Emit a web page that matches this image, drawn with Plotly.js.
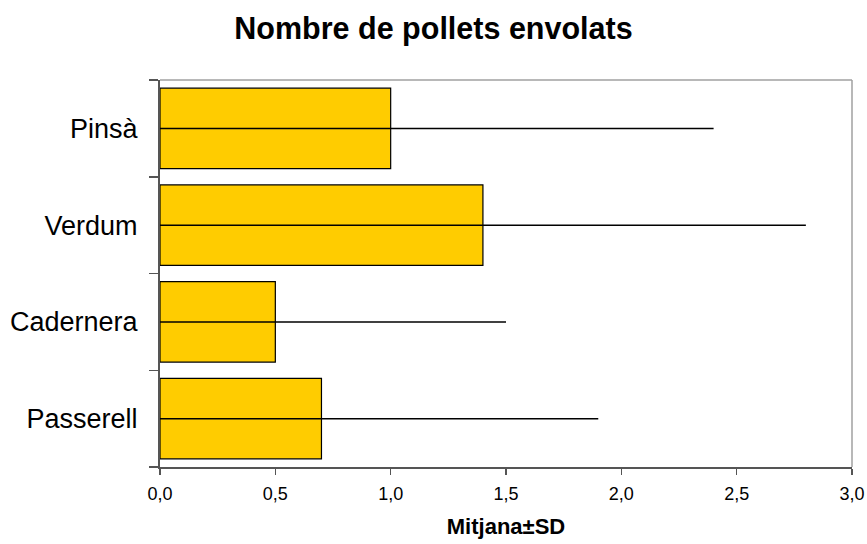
<!DOCTYPE html>
<html>
<head>
<meta charset="utf-8">
<script src="https://cdn.plot.ly/plotly-3.0.1.min.js"></script>
<style>html,body{margin:0;padding:0;background:#fff;}#chart{width:867px;height:544px;}</style>
</head>
<body>
<div id="chart"></div>
<script>
const categories = ['Passerell', 'Cadernera', 'Verdum', 'Pinsà'];
const means = [0.7, 0.5, 1.4, 1.0];
const sds = [1.2, 1.0, 1.4, 1.4];
const xTickVals = [0, 0.5, 1.0, 1.5, 2.0, 2.5, 3.0];

const font = 'Liberation Sans, Arial, sans-serif';

const trace = {
  type: 'bar',
  orientation: 'h',
  y: categories,
  x: means,
  marker: {color: '#FFCC00', line: {color: '#000000', width: 1.2}},
  error_x: {type: 'data', array: sds, symmetric: true, visible: true, color: '#000000', thickness: 1.5, width: 0},
  hoverinfo: 'x+y'
};

const layout = {
  width: 867, height: 544,
  margin: {l: 160, r: 15, t: 80, b: 77},
  paper_bgcolor: '#ffffff', plot_bgcolor: '#ffffff',
  separators: ', ',
  bargap: 0.17,
  showlegend: false,
  font: {family: font, color: '#000000'},
  title: {text: '<b>Nombre de pollets envolats</b>', font: {family: font, size: 30.5, color: '#000'}, x: 0.5, xref: 'container', y: 1 - 28/544, yref: 'container', yanchor: 'middle'},
  xaxis: {
    range: [0, 3], tickvals: xTickVals, tickformat: '.1f',
    showgrid: false, zeroline: false,
    showline: true, linecolor: '#555555', linewidth: 2,
    ticks: 'outside', ticklen: 6, tickwidth: 1.5, tickcolor: '#555555',
    tickfont: {family: font, size: 18, color: '#000'},
    ticklabelstandoff: 3,
    title: {text: '<b>Mitjana±SD</b>', font: {family: font, size: 22, color: '#000'}, standoff: 16},
    fixedrange: true
  },
  yaxis: {
    type: 'category', categoryorder: 'array', categoryarray: categories,
    showgrid: false, zeroline: false,
    showline: true, linecolor: '#555555', linewidth: 2,
    ticks: 'outside', tickson: 'boundaries', ticklen: 9, tickwidth: 1.5, tickcolor: '#555555',
    tickfont: {family: font, size: 27, color: '#000'},
    ticklabelstandoff: 15,
    fixedrange: true
  },
  shapes: [
    {type: 'line', xref: 'paper', yref: 'paper', x0: 0, x1: 1, y0: 1, y1: 1, line: {color: '#A0A0A0', width: 1.5}},
    {type: 'line', xref: 'paper', yref: 'paper', x0: 1, x1: 1, y0: 0, y1: 1, line: {color: '#A0A0A0', width: 1.5}}
  ]
};

Plotly.newPlot('chart', [trace], layout, {displayModeBar: false, staticPlot: true});
</script>
</body>
</html>
